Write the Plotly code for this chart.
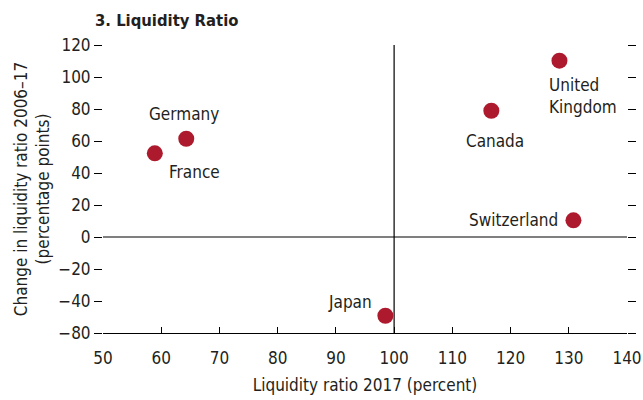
import plotly.graph_objects as go

countries = ["Germany", "France", "United<br>Kingdom", "Canada", "Switzerland", "Japan"]
liquidity_2017 = [64.3, 58.9, 128.4, 116.7, 130.8, 98.5]
change_2006_17 = [61.4, 52.3, 110.2, 78.9, 10.4, -49.2]

y_tickvals = [-60, -40, -20, 0, 20, 40, 60, 80, 100, 120]
y_ticktext = ["−80", "−40", "−20", "0", "20", "40", "60", "80", "100", "120"]
x_tickvals = [50, 60, 70, 80, 90, 100, 110, 120, 130, 140]

FONT = "DejaVu Sans Condensed, sans-serif"
TXT = "#231f20"
RED = "#ad1a2e"

# label placement (xanchor, yanchor, xshift, yshift)
label_style = {
    "Germany": ("center", "middle", -2, 25),
    "France": ("center", "middle", 40, -19),
    "United<br>Kingdom": ("left", "top", -12, -12),
    "Canada": ("center", "middle", 4, -30),
    "Switzerland": ("right", "middle", -13, 0),
    "Japan": ("right", "middle", -11, 14),
}

fig = go.Figure()
fig.add_trace(go.Scatter(
    x=liquidity_2017, y=change_2006_17, mode="markers",
    marker=dict(size=16, color=RED, line=dict(width=0)),
    hoverinfo="skip", showlegend=False,
))

for name, xv, yv in zip(countries, liquidity_2017, change_2006_17):
    xa, ya, xs, ys = label_style[name]
    fig.add_annotation(x=xv, y=yv, text=name, showarrow=False,
                       xanchor=xa, yanchor=ya, xshift=xs, yshift=ys,
                       align="left", font=dict(family=FONT, size=17, color=TXT))

fig.add_shape(type="line", x0=100, x1=100, y0=-60, y1=120,
              line=dict(color="black", width=1.2), layer="below")
fig.add_shape(type="line", x0=50, x1=140, y0=0, y1=0,
              line=dict(color="black", width=1.2), layer="below")

fig.update_layout(
    width=643, height=400,
    margin=dict(l=103, r=16, t=45, b=67),
    paper_bgcolor="white", plot_bgcolor="white",
    font=dict(family=FONT, size=17, color=TXT),
    title=dict(text="<b>3. Liquidity Ratio</b>", x=95/643, xanchor="left",
               y=1-20/400, yanchor="middle",
               font=dict(family=FONT, size=16.5, color=TXT)),
    xaxis=dict(range=[50, 140], tickvals=x_tickvals, ticks="inside", ticklen=6,
               tickcolor="black", showline=True, linecolor="black", linewidth=1.2,
               showgrid=False, zeroline=False, automargin=False,
               ticklabelstandoff=9,
               title=dict(text="Liquidity ratio 2017 (percent)", standoff=12,
                          font=dict(family=FONT, size=17, color=TXT))),
    yaxis=dict(range=[-60, 120], tickvals=y_tickvals, ticktext=y_ticktext,
               ticks="outside", ticklen=8, tickcolor="black", showline=False,
               mirror="ticks", showgrid=False, zeroline=False, automargin=False,
               title=dict(text="Change in liquidity ratio 2006–17<br>(percentage points)",
                          standoff=4, font=dict(family=FONT, size=17, color=TXT))),
)

fig.write_html("out.html", config={"displayModeBar": False},
               post_script="document.body.style.margin='0';")
